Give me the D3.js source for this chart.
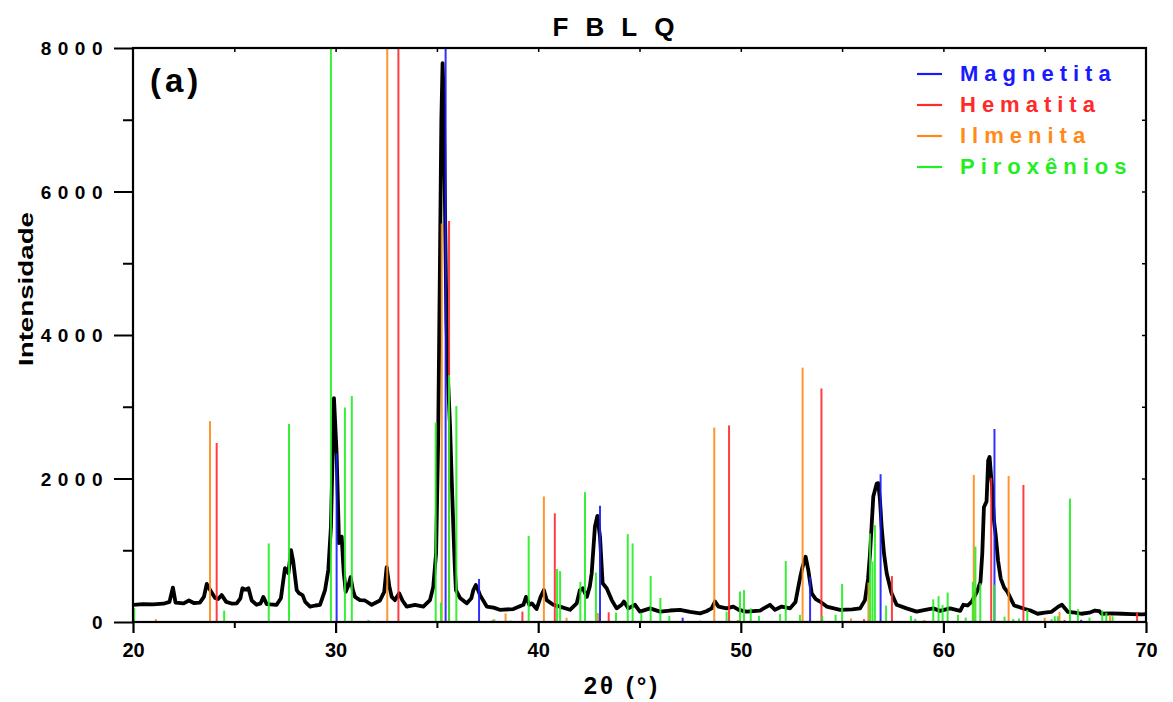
<!DOCTYPE html>
<html><head><meta charset="utf-8">
<script src="https://cdn.jsdelivr.net/npm/d3@7"></script>
<style>
html,body{margin:0;padding:0;background:#fff;}
svg{display:block;font-family:"Liberation Sans",Arial,sans-serif;}
</style></head>
<body><svg id="c" width="1173" height="702"></svg>
<script>
// ---- data ----
const xrdTheta = [20.0,20.5,21.0,21.5,21.8,21.97,22.1,22.5,22.76,23.0,23.3,23.5,23.64,23.8,24.05,24.2,24.38,24.6,24.9,25.12,25.3,25.4,25.55,25.7,25.86,26.1,26.3,26.43,26.6,27.09,27.3,27.5,27.67,27.8,27.9,28.08,28.2,28.37,28.5,28.74,29.0,29.23,29.48,29.64,29.77,29.85,29.92,30.05,30.17,30.3,30.4,30.5,30.62,30.74,30.85,30.96,31.2,31.45,31.78,32.19,32.4,32.52,32.65,32.77,32.93,33.14,33.3,33.51,33.92,34.33,34.66,34.82,34.96,35.06,35.15,35.22,35.28,35.34,35.4,35.47,35.56,35.65,35.73,35.81,35.88,35.94,36.14,36.47,36.7,36.8,36.92,37.0,37.13,37.46,37.8,38.1,38.77,39.27,39.4,39.56,39.68,39.92,40.12,40.28,40.42,40.74,41.07,41.57,41.9,42.06,42.2,42.4,42.55,42.64,42.8,42.92,43.05,43.18,43.38,43.63,43.87,44.12,44.23,44.45,44.78,45.02,45.52,46.01,46.5,47.0,47.5,47.99,48.3,48.56,48.73,48.9,49.3,49.63,49.9,50.29,50.95,51.44,51.69,52.02,52.43,52.7,52.84,52.95,53.05,53.2,53.33,53.5,53.7,53.91,54.24,54.9,55.5,55.89,56.13,56.28,56.38,56.54,56.71,56.78,56.87,56.95,57.07,57.2,57.44,57.69,58.18,58.68,59.1,59.5,59.83,60.33,60.83,60.98,61.2,61.4,61.65,61.83,61.92,62.0,62.08,62.13,62.21,62.28,62.35,62.41,62.5,62.58,62.7,62.83,63.0,63.16,63.49,63.99,64.3,64.65,65.0,65.32,65.65,65.85,66.15,66.5,66.81,67.2,67.48,67.7,67.81,68.3,68.8,69.3,69.8,70.0];
const xrdIntensity = [240,250,245,255,280,480,270,260,300,265,270,350,530,450,335,320,375,280,255,260,330,470,450,470,300,240,260,350,250,240,330,750,680,1000,860,445,400,375,280,215,230,240,445,725,1330,2300,3120,2350,1100,1190,700,420,500,625,450,350,305,300,240,300,420,765,500,350,305,400,300,215,240,215,305,490,960,2500,5000,7000,7790,7300,5800,4200,3300,2720,2000,1330,800,445,335,260,330,445,515,470,375,215,200,170,180,240,350,240,260,180,350,445,305,240,215,170,260,445,470,350,500,680,1330,1480,1190,540,470,305,190,240,285,190,240,145,190,145,160,170,140,120,150,190,285,215,190,215,170,145,160,240,170,215,190,280,490,650,770,910,725,400,320,285,215,170,175,190,305,600,960,1750,1930,1935,1700,1330,950,680,400,240,190,145,170,190,155,190,155,240,230,285,420,560,960,1600,1650,1680,2250,2300,2050,1875,1400,1215,850,605,480,420,230,185,160,115,130,140,210,240,140,130,115,130,160,150,115,120,115,110,105,110];

const magnetitaTheta = [30.05,35.43,37.08,43.05,47.13,53.42,56.9,62.52,66.8];
const magnetitaI = [2350,8000,600,1620,60,630,2060,2690,30];

const hematitaTheta = [24.13,33.1,35.6,39.22,40.82,43.48,49.42,53.98,56.08,57.46,62.36,63.95,65.98,69.56];
const hematitaI = [2495,8000,5590,145,1515,135,2740,3255,40,640,2010,1910,30,130];

const ilmenitaTheta = [21.13,23.8,32.55,35.24,37.83,38.39,40.28,41.4,42.95,48.69,49.85,53.05,55.44,56.3,59.06,61.5,63.22,65.0,65.73,68.22];
const ilmenitaI = [40,2800,8000,5555,40,120,1750,60,125,2710,30,3545,50,550,30,2050,2035,60,140,100];

const piroxTheta = [20.06,24.5,26.7,27.7,29.77,30.46,30.8,31.62,34.94,35.2,35.6,35.96,37.75,38.64,39.53,40.93,41.08,42.08,42.31,42.85,43.84,44.42,44.66,45.09,45.55,46.03,46.47,47.99,49.3,49.96,50.16,50.49,50.9,51.94,52.22,52.92,54.02,54.68,55.0,56.38,56.5,56.62,57.17,58.4,58.61,59.5,59.76,59.96,60.21,60.72,61.1,61.45,61.58,61.82,62.5,63.02,63.45,63.73,64.14,65.34,65.5,65.65,66.25,66.64,67.21,67.84,68.04,68.35];
const piroxI = [195,160,1095,2760,8000,2990,3150,30,2780,270,3440,3010,30,20,1200,740,710,560,1810,690,130,1225,1095,130,640,335,85,20,145,425,445,190,85,110,850,100,85,100,530,1235,840,1350,230,85,45,315,360,235,410,100,62,560,1050,540,520,75,40,50,170,40,80,80,1720,180,60,160,130,80];

const seriesNames = ["Magnetita","Hematita","Ilmenita","Piroxênios"];
const seriesColors = ["#1a1aff","#ff2a2a","#ff8a1a","#22ee22"];
const xTicks = [20,30,40,50,60,70];
const yTicks = [0,2000,4000,6000,8000];
const titleText = "FBLQ";
const panelLabel = "(a)";

// ---- layout ----
const svg = d3.select("#c");
const L = 133, R = 1146, T = 48, B = 622;
const x = d3.scaleLinear().domain([20,70]).range([L,R]);
const y = d3.scaleLinear().domain([0,8000]).range([B,T]);

svg.append("defs").append("clipPath").attr("id","clip")
  .append("rect").attr("x",L).attr("y",T).attr("width",R-L).attr("height",B-T);

// black pattern
const pts = xrdTheta.map((t,i)=>[t,xrdIntensity[i]]);
svg.append("path").attr("clip-path","url(#clip)")
  .attr("d", d3.line().x(d=>x(d[0])).y(d=>y(d[1]))(pts))
  .attr("fill","none").attr("stroke","#000").attr("stroke-width",3.8)
  .attr("stroke-linejoin","round");

// sticks
const sticks = [
  [magnetitaTheta, magnetitaI],
  [hematitaTheta, hematitaI],
  [ilmenitaTheta, ilmenitaI],
  [piroxTheta, piroxI]
];
sticks.forEach((s,k)=>{
  const g = svg.append("g").attr("clip-path","url(#clip)");
  g.selectAll("line").data(s[0].map((t,i)=>[t,s[1][i]])).enter().append("line")
    .attr("x1",d=>x(d[0])).attr("x2",d=>x(d[0]))
    .attr("y1",y(0)).attr("y2",d=>y(d[1]))
    .attr("stroke",seriesColors[k]).attr("stroke-width",2).attr("stroke-opacity",0.9);
});

// frame
svg.append("rect").attr("x",L).attr("y",T).attr("width",R-L).attr("height",B-T)
  .attr("fill","none").attr("stroke","#000").attr("stroke-width",2.2);

// bottom axis
const xAxis = d3.axisBottom(x).tickValues(xTicks).tickSize(11).tickFormat(d3.format("d"));
const gx = svg.append("g").attr("transform",`translate(0,${B})`).call(xAxis);
gx.select(".domain").remove();
gx.selectAll(".tick line").attr("stroke","#000").attr("stroke-width",2.2);
gx.selectAll(".tick text").attr("font-size",20).attr("font-weight","bold").attr("fill","#000")
  .attr("dy",0).attr("y",35).attr("font-family","'Liberation Sans',Arial,sans-serif");
const xMinor = d3.axisBottom(x).tickValues([25,35,45,55,65]).tickSize(6).tickFormat("");
const gxm = svg.append("g").attr("transform",`translate(0,${B})`).call(xMinor);
gxm.select(".domain").remove();
gxm.selectAll(".tick line").attr("stroke","#000").attr("stroke-width",2);
// top minor ticks inward
const xTop = d3.axisBottom(x).tickValues([25,30,35,40,45,50,55,60,65]).tickSize(4).tickFormat("");
const gxt = svg.append("g").attr("transform",`translate(0,${T})`).call(xTop);
gxt.select(".domain").remove();
gxt.selectAll(".tick line").attr("stroke","#000").attr("stroke-width",1.5);

// left axis
const yAxis = d3.axisLeft(y).tickValues(yTicks).tickSize(19).tickFormat(d3.format("d"));
const gy = svg.append("g").attr("transform",`translate(${L},0)`).call(yAxis);
gy.select(".domain").remove();
gy.selectAll(".tick line").attr("stroke","#000").attr("stroke-width",2);
gy.selectAll(".tick text").attr("font-size",19).attr("font-weight","bold").attr("fill","#000")
  .attr("letter-spacing","6.5px").attr("x",-24).attr("dy","0.36em")
  .attr("font-family","'Liberation Sans',Arial,sans-serif");
const yMinor = d3.axisLeft(y).tickValues([1000,3000,5000,7000]).tickSize(10).tickFormat("");
const gym = svg.append("g").attr("transform",`translate(${L},0)`).call(yMinor);
gym.select(".domain").remove();
gym.selectAll(".tick line").attr("stroke","#000").attr("stroke-width",2);
// right inward ticks
const yRight = d3.axisLeft(y).tickValues([1000,2000,3000,4000,5000,6000,7000]).tickSize(4).tickFormat("");
const gyr = svg.append("g").attr("transform",`translate(${R},0)`).call(yRight);
gyr.select(".domain").remove();
gyr.selectAll(".tick line").attr("stroke","#000").attr("stroke-width",1.5);

// titles
svg.append("text").attr("x",622).attr("y",36).attr("text-anchor","middle")
  .attr("font-size",26).attr("font-weight","bold").attr("letter-spacing","17px")
  .text(titleText);
svg.append("text").attr("x",150).attr("y",92)
  .attr("font-size",33).attr("font-weight","bold").attr("letter-spacing","4px")
  .text(panelLabel);
svg.append("text").attr("x",622).attr("y",694).attr("text-anchor","middle")
  .attr("font-size",24).attr("font-weight","bold").attr("letter-spacing","3px")
  .text("2θ (°)");
svg.append("text").attr("transform","translate(33,289) rotate(-90)").attr("text-anchor","middle")
  .attr("font-size",21).attr("font-weight","bold")
  .attr("textLength",154).attr("lengthAdjust","spacingAndGlyphs")
  .text("Intensidade");

// legend
const lg = svg.append("g");
seriesNames.forEach((n,i)=>{
  const yy = 74 + i*31;
  lg.append("line").attr("x1",917).attr("x2",942).attr("y1",yy).attr("y2",yy)
    .attr("stroke",seriesColors[i]).attr("stroke-width",2.2);
  lg.append("text").attr("x",960).attr("y",yy+6.5)
    .attr("font-size",22).attr("font-weight","bold").attr("letter-spacing","6px")
    .attr("fill",seriesColors[i]).text(n);
});
</script></body></html>
